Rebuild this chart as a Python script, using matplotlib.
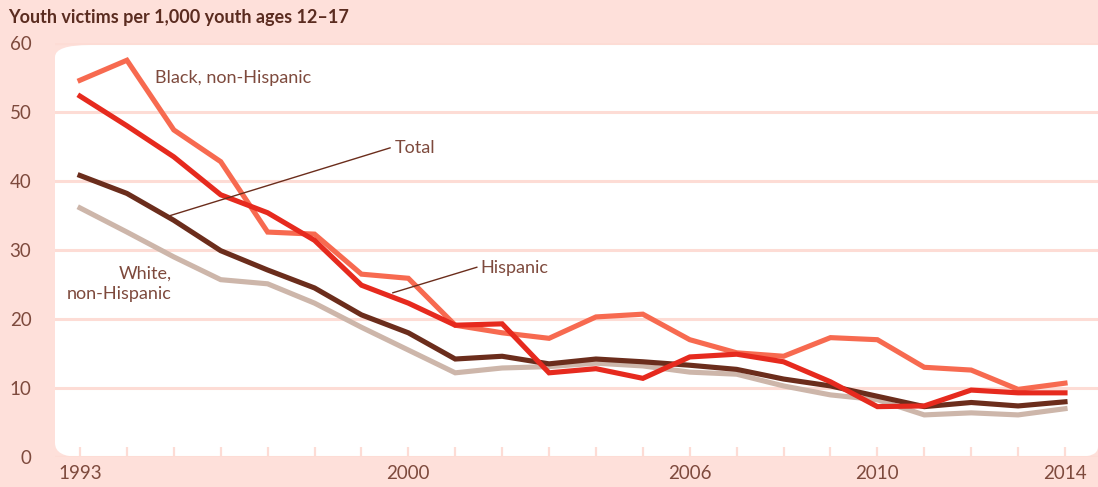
import matplotlib
matplotlib.use('Agg')
import matplotlib.pyplot as plt
from matplotlib.path import Path
from matplotlib.patches import PathPatch

years = list(range(1993, 2015))
black = [54.6, 57.5, 47.4, 42.8, 32.6, 32.3, 26.5, 25.9, 19.1, 18.0, 17.2,
         20.3, 20.7, 17.0, 15.1, 14.6, 17.3, 17.0, 13.0, 12.6, 9.8, 10.7]
hispanic = [52.3, 48.0, 43.5, 38.0, 35.4, 31.4, 24.9, 22.3, 19.1, 19.3, 12.2,
            12.8, 11.4, 14.5, 14.9, 13.8, 10.9, 7.3, 7.4, 9.7, 9.3, 9.3]
total = [40.8, 38.2, 34.3, 29.9, 27.1, 24.5, 20.6, 18.0, 14.2, 14.6, 13.5,
         14.2, 13.8, 13.3, 12.7, 11.3, 10.3, 8.8, 7.3, 7.9, 7.4, 8.0]
white = [36.1, 32.6, 29.0, 25.7, 25.1, 22.3, 18.8, 15.5, 12.2, 12.9, 13.1,
         13.6, 13.2, 12.3, 12.0, 10.3, 9.0, 8.3, 6.1, 6.4, 6.1, 7.0]
y_ticks = [0, 10, 20, 30, 40, 50, 60]
x_labels = [1993, 2000, 2006, 2010, 2014]
title = "Youth victims per 1,000 youth ages 12\u201317"

PINK = '#FEE0DA'
GRID = '#FDDCD5'
TXT = '#7E4A3D'
FONT = 'Lato'

W, H = 1098, 487
fig = plt.figure(figsize=(W / 100, H / 100), dpi=100, facecolor=PINK)

# white rounded panel (pixel geometry -> figure fraction)
def P(x, y):
    return (x / W, 1 - y / H)

verts = [P(55, 57), P(55, 443), P(55, 457), P(80, 457), P(1077, 457),
         P(1098, 457), P(1098, 447), P(1098, 45), P(90, 45), P(55, 45), P(55, 57)]
codes = [Path.MOVETO, Path.LINETO, Path.CURVE3, Path.CURVE3, Path.LINETO,
         Path.CURVE3, Path.CURVE3, Path.LINETO, Path.LINETO, Path.CURVE3, Path.CURVE3]
panel = PathPatch(Path(verts, codes), facecolor='white', edgecolor='none',
                  transform=fig.transFigure, zorder=-10)
fig.patches.append(panel)

ax = fig.add_axes([55 / W, (H - 457) / H, 1 - 55 / W, (457 - 43) / H])
ax.set_zorder(5)
ax.set_facecolor('none')
ax.set_xlim(1993 - 25 / 46.9, 2014 + 33 / 46.9)
ax.set_ylim(0, 60)
for s in ax.spines.values():
    s.set_visible(False)

ax.set_yticks(y_ticks)
ax.set_yticklabels([str(v) for v in y_ticks])
ax.yaxis.grid(True, color=GRID, lw=2.2, zorder=0)
ax.set_axisbelow(True)
ax.tick_params(axis='y', length=0, pad=17, labelsize=13.5, labelcolor=TXT)

ax.set_xticks(years)
ax.set_xticklabels([str(y) if y in x_labels else '' for y in years])
ax.tick_params(axis='x', direction='in', length=7.5, width=1.6, color=GRID,
               pad=6, labelsize=13.5, labelcolor=TXT)
for lab in ax.get_xticklabels() + ax.get_yticklabels():
    lab.set_fontfamily(FONT)

lw = 3.7
ax.plot(years, white, color='#CDB6AA', lw=lw, solid_joinstyle='miter', zorder=2)
ax.plot(years, total, color='#6B2D1C', lw=lw, solid_joinstyle='miter', zorder=3)
ax.plot(years, black, color='#F76A50', lw=lw, solid_joinstyle='miter', zorder=4)
ax.plot(years, hispanic, color='#E62A1E', lw=lw, solid_joinstyle='miter', zorder=5)

lab_kw = dict(fontsize=13, color=TXT, family=FONT, va='center')
ax.text(1994.6, 54.9, 'Black, non-Hispanic', ha='left', **lab_kw)
ax.text(1999.72, 44.8, 'Total', ha='left', **lab_kw)
ax.plot([1994.88, 1999.61], [34.9, 44.8], color='#6B2D1C', lw=1.0, zorder=6)
ax.text(2001.53, 27.4, 'Hispanic', ha='left', **lab_kw)
ax.plot([1999.67, 2001.46], [23.8, 27.5], color='#6B2D1C', lw=1.0, zorder=6)
ax.text(1994.95, 25.1, 'White,\nnon-Hispanic', ha='right', multialignment='right',
        linespacing=1.3, **lab_kw)

fig.text(8 / W, 1 - 18 / H, title, ha='left', va='center', fontsize=13,
         fontweight='bold', color='#5B2C20', family=FONT)

fig.savefig('out.png', dpi=100, facecolor=PINK)
